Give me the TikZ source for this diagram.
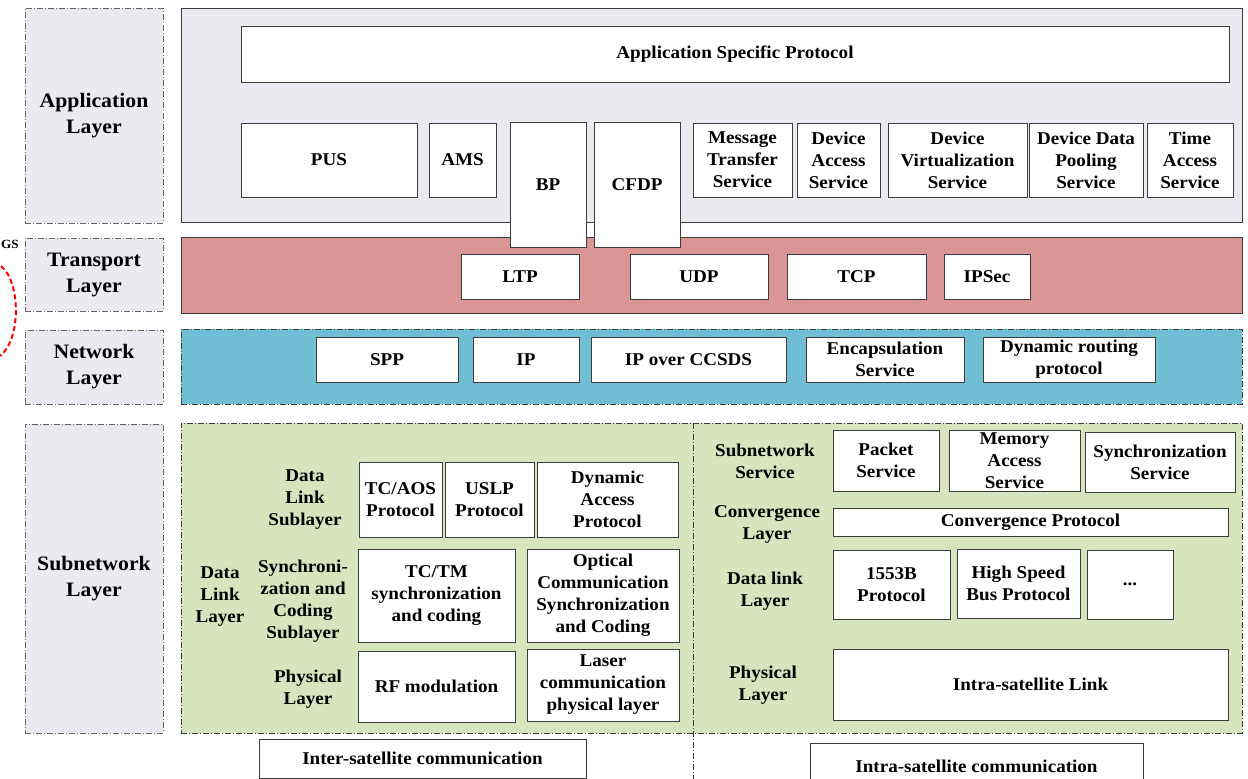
\documentclass[tikz,border=0pt]{standalone}
\usepackage{fontspec}
\setmainfont{Liberation Serif}[FakeStretch=1.06]
\definecolor{appfill}{RGB}{236,233,241}
\definecolor{transfill}{RGB}{217,150,148}
\definecolor{netfill}{RGB}{112,190,211}
\definecolor{subfill}{RGB}{215,228,189}
\definecolor{edgegray}{RGB}{60,60,60}
\tikzset{
    dashdot/.style = {dash pattern=on 6pt off 2pt on 1pt off 2pt},
    wh/.style 2 args = {minimum width=#1pt, minimum height=#2pt},
    layerbox/.style = {draw=gray!80!black, dashdot, line width=0.9pt, fill=appfill, align=center, inner sep=0pt, font=\bfseries\fontsize{20.5}{26}\selectfont},
    panelbox/.style = {draw=edgegray, line width=0.9pt, inner sep=0pt},
    panelboxd/.style = {panelbox, dashdot},
    protobox/.style = {draw=edgegray, line width=0.8pt, fill=white, align=center, inner sep=0pt, font=\bfseries\fontsize{18}{22}\selectfont},
    sublabel/.style = {align=center, inner sep=0pt, font=\bfseries\fontsize{18}{22}\selectfont},
    divider/.style = {draw=edgegray, line width=0.7pt, dashdot},
    gsarc/.style = {draw=red, line width=2pt, dash pattern=on 5pt off 3pt}
}
\begin{document}
\begin{tikzpicture}[x=1pt, y=-1pt]
  \clip (0,0) rectangle (1248,779);
  \fill[white] (0,0) rectangle (1248,779);

  % layer names
  \node[layerbox, wh={138}{215}] (applbl) at (94,115.5) {Application\\Layer};
  \node[layerbox, wh={138}{73}] (translbl) at (94,274.5) {Transport\\Layer};
  \node[layerbox, wh={138}{74}] (netlbl) at (94,367) {Network\\Layer};
  \node[layerbox, wh={138}{309}] (sublbl) at (94,578.5) {Subnetwork\\Layer};

  % GS
  \node[inner sep=0pt, font=\bfseries\fontsize{12.5}{14}\selectfont] (gs) at (10,244) {GS};
  \draw[gsarc] (1,266) .. controls (21,282) and (21,340) .. (0,356);

  % panels
  \node[panelbox, fill=appfill, wh={1061}{214}] (apppanel) at (711.5,115) {};
  \node[panelbox, fill=transfill, wh={1061}{76}] (transpanel) at (711.5,275) {};
  \node[panelboxd, fill=netfill, wh={1061}{75}] (netpanel) at (711.5,366.5) {};
  \node[panelboxd, fill=subfill, wh={1061}{310}] (subpanel) at (711.5,578) {};
  \coordinate (divtop) at (693,423);
  \coordinate (divbot) at (693,779);
  \draw[divider] (divtop) -- (divbot);

  % application layer
  \node[protobox, wh={988}{56}] (asp) at (735,54) {Application Specific Protocol};
  \node[protobox, wh={176}{74}] (pus) at (329,160) {PUS};
  \node[protobox, wh={67}{74}] (ams) at (462.5,160) {AMS};
  \node[protobox, wh={76}{125}] (bp) at (548,184.5) {BP};
  \node[protobox, wh={86}{125}] (cfdp) at (637,184.5) {CFDP};
  \node[protobox, wh={99}{74}] (mts) at (742.5,160) {Message\\Transfer\\Service};
  \node[protobox, wh={83}{74}] (das) at (838.5,160) {Device\\Access\\Service};
  \node[protobox, wh={139}{74}] (dvs) at (957.5,160) {Device\\Virtualization\\Service};
  \node[protobox, wh={114}{74}] (ddps) at (1086,160) {Device Data\\Pooling\\Service};
  \node[protobox, wh={86}{74}] (tas) at (1190,160) {Time\\Access\\Service};

  % transport layer
  \node[protobox, wh={118}{45}] (ltp) at (520,276.5) {LTP};
  \node[protobox, wh={138}{45}] (udp) at (699,276.5) {UDP};
  \node[protobox, wh={139}{45}] (tcp) at (856.5,276.5) {TCP};
  \node[protobox, wh={86}{45}] (ipsec) at (987,276.5) {IPSec};

  % network layer
  \node[protobox, wh={142}{45}] (spp) at (387,359.5) {SPP};
  \node[protobox, wh={106}{45}] (ip) at (526,359.5) {IP};
  \node[protobox, wh={195}{45}] (ipccsds) at (688.5,359.5) {IP over CCSDS};
  \node[protobox, wh={158}{45}] (encap) at (885,359.5) {Encapsulation\\Service};
  \node[protobox, wh={172}{45}] (dynroute) at (1069,359.5) {Dynamic routing\\protocol};

  % subnetwork layer, inter-satellite
  \node[sublabel] (dlsub) at (305,500) {Data\\Link\\Sublayer};
  \node[sublabel] (dll) at (220,597) {Data\\Link\\Layer};
  \node[sublabel] (scsub) at (303,601) {Synchroni-\\zation and\\Coding\\Sublayer};
  \node[sublabel] (phyl) at (308,689) {Physical\\Layer};
  \node[protobox, wh={83}{75}] (tcaos) at (400.5,499.5) {TC/AOS\\Protocol};
  \node[protobox, wh={89}{75}] (uslp) at (489.5,499.5) {USLP\\Protocol};
  \node[protobox, wh={141}{75}] (dap) at (607.5,499.5) {Dynamic\\Access\\Protocol};
  \node[protobox, wh={157}{93}] (tctm) at (436.5,595.5) {TC/TM\\synchronization\\and coding};
  \node[protobox, wh={152}{93}] (ocsc) at (603,595.5) {Optical\\Communication\\Synchronization\\and Coding};
  \node[protobox, wh={157}{71}] (rfmod) at (436.5,686.5) {RF modulation};
  \node[protobox, wh={152}{72}] (laser) at (603,685) {Laser\\communication\\physical layer};
  \node[protobox, wh={327}{39}] (intercomm) at (422.5,758.5) {Inter-satellite communication};

  % subnetwork layer, intra-satellite
  \node[sublabel] (subsvc) at (765,461) {Subnetwork\\Service};
  \node[sublabel] (convl) at (767,524) {Convergence\\Layer};
  \node[sublabel] (dlinkl) at (765,591) {Data link\\Layer};
  \node[sublabel] (phyr) at (763,685) {Physical\\Layer};
  \node[protobox, wh={106}{61}] (pkt) at (886,460.5) {Packet\\Service};
  \node[protobox, wh={131}{61}] (mem) at (1014.5,460.5) {Memory\\Access\\Service};
  \node[protobox, wh={150}{60}] (syncsvc) at (1160,462) {Synchronization\\Service};
  \node[protobox, wh={395}{28}] (convp) at (1030.5,522) {Convergence Protocol};
  \node[protobox, wh={117}{69}] (b1553) at (891.5,584.5) {1553B\\Protocol};
  \node[protobox, wh={123}{69}] (hsbus) at (1018.5,583.5) {High Speed\\Bus Protocol};
  \node[protobox, wh={86}{69}] (more) at (1130,584.5) {...};
  \node[protobox, wh={395}{71}] (intralink) at (1030.5,684.5) {Intra-satellite Link};
  \node[protobox, wh={333}{46}] (intracomm) at (976.5,766) {Intra-satellite communication};
\end{tikzpicture}
\end{document}
